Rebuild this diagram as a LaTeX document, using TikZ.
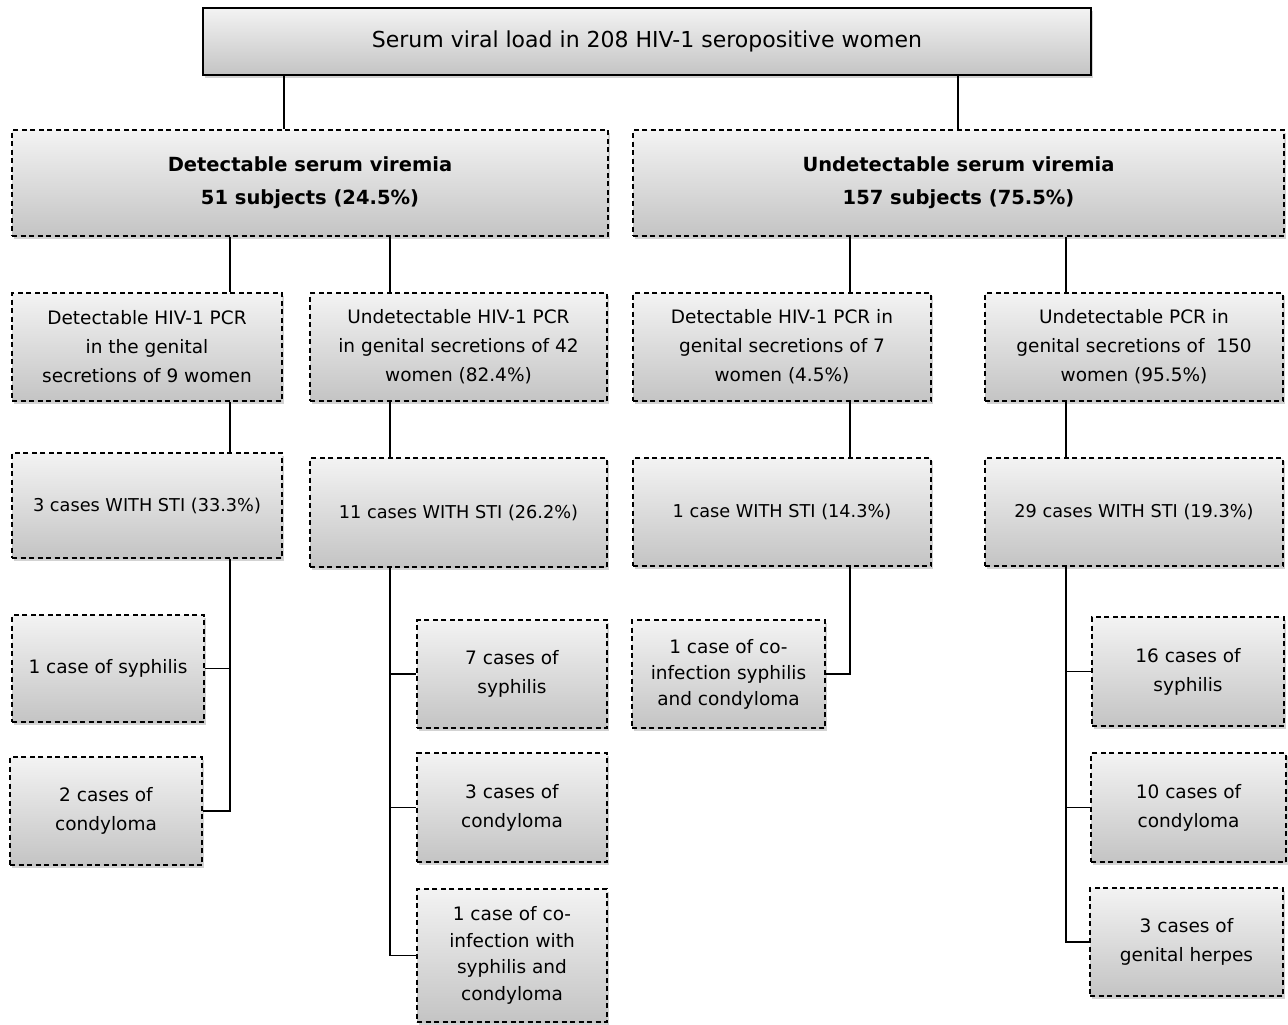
\documentclass[tikz,border=0pt]{standalone}
\usepackage{fontspec}
\setmainfont{DejaVu Sans}
\usepackage{tikz}
\usetikzlibrary{shadows}
\definecolor{boxtop}{HTML}{F3F3F3}
\definecolor{boxbot}{HTML}{C4C4C4}
\tikzset{
  box/.style={draw=black, line width=1.6pt, dash pattern=on 5pt off 3.5pt, top color=boxtop, bottom color=boxbot,
    drop shadow={shadow xshift=1.5pt, shadow yshift=-3pt, opacity=0.35}, align=center, inner sep=0pt,
    font=\fontsize{18.5}{29}\selectfont},
  stibox/.style={box, font=\fontsize{17.7}{29}\selectfont},
  topbox/.style={box, solid, font=\fontsize{22}{29}\selectfont},
  headbox/.style={box, font=\fontsize{19.5}{33}\selectfont\bfseries},
  link/.style={draw=black, line width=1.4pt}
}
\begin{document}
\begin{tikzpicture}[x=1pt, y=-1pt]
        \useasboundingbox (0,0) rectangle (1288,1025);

        \node[topbox, minimum width=888pt, minimum height=67pt] (top) at (647,41.5) {Serum viral load in 208 HIV-1 seropositive women};
        \node[headbox, minimum width=596pt, minimum height=106pt] (det) at (310,183) {Detectable serum viremia\\51 subjects (24.5\%)};
        \node[headbox, minimum width=651pt, minimum height=106pt] (und) at (958.5,183) {Undetectable serum viremia\\157 subjects (75.5\%)};

        \node[box, minimum width=270pt, minimum height=108pt] (a2) at (147,347) {Detectable HIV-1 PCR\\in the genital\\secretions of 9 women};
        \node[box, minimum width=297pt, minimum height=108pt] (b2) at (458.5,347) {Undetectable HIV-1 PCR\\in genital secretions of 42\\women (82.4\%)};
        \node[box, minimum width=298pt, minimum height=108pt] (c2) at (782,347) {Detectable HIV-1 PCR in\\genital secretions of 7\\women (4.5\%)};
        \node[box, minimum width=298pt, minimum height=108pt] (d2) at (1134,347) {Undetectable PCR in\\genital secretions of~~150\\women (95.5\%)};

        \node[stibox, minimum width=270pt, minimum height=105pt] (a3) at (147,505.5) {3 cases WITH STI (33.3\%)};
        \node[stibox, minimum width=297pt, minimum height=109pt] (b3) at (458.5,512.5) {11 cases WITH STI (26.2\%)};
        \node[stibox, minimum width=298pt, minimum height=108pt] (c3) at (782,512) {1 case WITH STI (14.3\%)};
        \node[stibox, minimum width=298pt, minimum height=108pt] (d3) at (1134,512) {29 cases WITH STI (19.3\%)};

        \node[box, minimum width=192pt, minimum height=107pt] (a4a) at (108,668.5) {1 case of syphilis};
        \node[box, minimum width=192pt, minimum height=108pt] (a4b) at (106,811) {2 cases of\\condyloma};
        \node[box, minimum width=190pt, minimum height=108pt] (b4a) at (512,674) {7 cases of\\syphilis};
        \node[box, minimum width=190pt, minimum height=109pt] (b4b) at (512,807.5) {3 cases of\\condyloma};
        \node[box, minimum width=190pt, minimum height=133pt, font=\fontsize{18.5}{26.5}\selectfont] (b4c) at (512,955.5) {1 case of co-\\infection with\\syphilis and\\condyloma};
        \node[box, minimum width=193pt, minimum height=108pt, font=\fontsize{18.5}{26}\selectfont] (c4) at (728.5,674) {1 case of co-\\infection syphilis\\and condyloma};
        \node[box, minimum width=192pt, minimum height=109pt] (d4a) at (1188,671.5) {16 cases of\\syphilis};
        \node[box, minimum width=195pt, minimum height=109pt] (d4b) at (1188.5,807.5) {10 cases of\\condyloma};
        \node[box, minimum width=193pt, minimum height=108pt] (d4c) at (1186.5,942) {3 cases of\\genital herpes};

        \coordinate (t1) at (284,0);
        \coordinate (t2) at (958,0);
        \coordinate (xa) at (230,0);
        \coordinate (xb) at (390,0);
        \coordinate (xc) at (850,0);
        \coordinate (xd) at (1066,0);

        \draw[link] (top.south -| t1)--(det.north -| t1);
        \draw[link] (top.south -| t2)--(und.north -| t2);
        \draw[link] (det.south -| xa)--(a2.north -| xa);
        \draw[link] (det.south -| xb)--(b2.north -| xb);
        \draw[link] (und.south -| xc)--(c2.north -| xc);
        \draw[link] (und.south -| xd)--(d2.north -| xd);
        \draw[link] (a2.south -| xa)--(a3.north -| xa);
        \draw[link] (b2.south -| xb)--(b3.north -| xb);
        \draw[link] (c2.south -| xc)--(c3.north -| xc);
        \draw[link] (d2.south -| xd)--(d3.north -| xd);

        \draw[link] (a3.south -| xa) |- (a4a.east);
        \draw[link] (a3.south -| xa) |- (a4b.east);
        \draw[link] (b3.south -| xb) |- (b4a.west);
        \draw[link] (b3.south -| xb) |- (b4b.west);
        \draw[link] (b3.south -| xb) |- (b4c.west);
        \draw[link] (c3.south -| xc) |- (c4.east);
        \draw[link] (d3.south -| xd) |- (d4a.west);
        \draw[link] (d3.south -| xd) |- (d4b.west);
        \draw[link] (d3.south -| xd) |- (d4c.west);
    \end{tikzpicture}
\end{document}
